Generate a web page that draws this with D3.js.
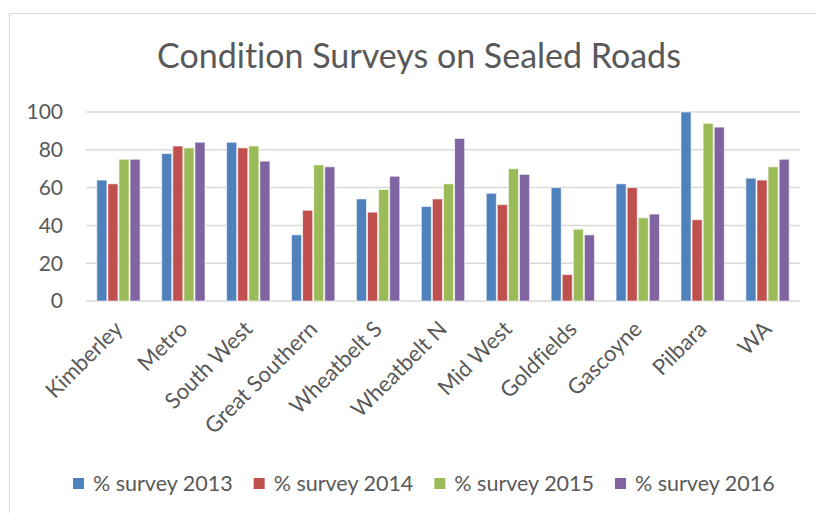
<!DOCTYPE html>
<html>
<head>
<meta charset="utf-8">
<script src="https://cdn.jsdelivr.net/npm/d3@7"></script>
<style>
  html, body { margin: 0; padding: 0; background: #fff; }
  text { font-family: Lato, "Open Sans", sans-serif; fill: #595959; font-variant-ligatures: none; }
</style>
</head>
<body>
<script>
const width = 816, height = 513;

// data
const regions = ["Kimberley", "Metro", "South West", "Great Southern", "Wheatbelt S",
  "Wheatbelt N", "Mid West", "Goldfields", "Gascoyne", "Pilbara", "WA"];
const seriesNames = ["% survey 2013", "% survey 2014", "% survey 2015", "% survey 2016"];
const survey2013 = [64, 78, 84, 35, 54, 50, 57, 60, 62, 100, 65];
const survey2014 = [62, 82, 81, 48, 47, 54, 51, 14, 60, 43, 64];
const survey2015 = [75, 81, 82, 72, 59, 62, 70, 38, 44, 94, 71];
const survey2016 = [75, 84, 74, 71, 66, 86, 67, 35, 46, 92, 75];
const yTicks = [0, 20, 40, 60, 80, 100];
const colours = ["#4F81BD", "#C0504D", "#9BBB59", "#8064A2"];

const allSeries = [survey2013, survey2014, survey2015, survey2016];

const svg = d3.select("body")
  .append("svg")
  .attr("width", width)
  .attr("height", height);

// chart frame (runs off right/bottom like the screenshot)
svg.append("rect")
  .attr("x", 9.5).attr("y", 13.5)
  .attr("width", 900).attr("height", 600)
  .attr("fill", "#fff")
  .attr("stroke", "#d9d9d9");

svg.append("text")
  .attr("x", 419).attr("y", 68)
  .attr("text-anchor", "middle")
  .style("font-size", "34px")
  .text("Condition Surveys on Sealed Roads");

const x0 = d3.scaleBand()
  .domain(regions)
  .range([86, 800])
  .paddingInner(0.317)
  .paddingOuter(0.1585);

const x1 = d3.scaleBand()
  .domain(d3.range(seriesNames.length))
  .range([0, x0.bandwidth()]);

const y = d3.scaleLinear()
  .domain([0, 100])
  .range([301, 112]);

// gridlines
svg.append("g")
  .selectAll("line")
  .data(yTicks)
  .join("line")
  .attr("x1", 86).attr("x2", 800)
  .attr("y1", d => y(d)).attr("y2", d => y(d))
  .attr("stroke", "#d9d9d9")
  .attr("stroke-width", 1.5);

// y axis labels
svg.append("g")
  .selectAll("text")
  .data(yTicks)
  .join("text")
  .attr("x", 63)
  .attr("y", d => y(d))
  .attr("dy", "0.35em")
  .attr("text-anchor", "end")
  .style("font-size", "21px")
  .text(d => d);

// bars
const groups = svg.append("g")
  .selectAll("g")
  .data(regions)
  .join("g")
  .attr("transform", d => "translate(" + x0(d) + ",0)");

groups.selectAll("rect")
  .data((d, i) => allSeries.map((s, k) => ({ k: k, v: s[i] })))
  .join("rect")
  .attr("x", d => x1(d.k) + 0.5)
  .attr("width", x1.bandwidth() - 1)
  .attr("y", d => y(d.v))
  .attr("height", d => y(0) - y(d.v))
  .attr("fill", d => colours[d.k])
  .attr("stroke", "#fff")
  .attr("stroke-opacity", 0.6)
  .attr("stroke-width", 1);

// x labels, rotated
svg.append("g")
  .selectAll("text")
  .data(regions)
  .join("text")
  .attr("transform", d => "translate(" + (x0(d) + x0.bandwidth() / 2) + ",325) rotate(-45)")
  .attr("dy", "0.35em")
  .attr("text-anchor", "end")
  .style("font-size", "22px")
  .text(d => d);

// legend
const legend = svg.append("g");
let lx = 73;
seriesNames.forEach((name, k) => {
  legend.append("rect")
    .attr("x", lx).attr("y", 478)
    .attr("width", 11).attr("height", 11)
    .attr("fill", colours[k]);
  const t = legend.append("text")
    .attr("x", lx + 20).attr("y", 491)
    .style("font-size", "21.5px")
    .text(name);
  lx = lx + 20 + t.node().getComputedTextLength() + 21;
});
</script>
</body>
</html>
